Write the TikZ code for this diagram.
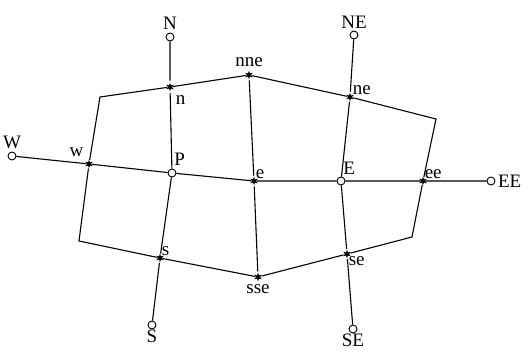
\documentclass[tikz,border=0pt]{standalone}
\usepackage{fontspec}
\setmainfont{Liberation Serif}
\usetikzlibrary{shapes.geometric}
\usetikzlibrary{positioning}

\begin{document}
\begin{tikzpicture}[x=1pt,y=-1pt,line width=1.1pt,
          nodept/.style={draw,circle,fill=white,inner sep=0pt,minimum size=8pt,line width=0.9pt},
          facept/.style={star,star points=6,star point ratio=2.4,fill,inner sep=0pt,minimum size=9pt},
          every label/.style={font=\fontsize{19}{21}\selectfont,inner sep=1pt,label distance=1pt}]
          \useasboundingbox (0,0) rectangle (528,356);
          % grid nodes
          \node[nodept,label=above:N](N) at (170,37){};
          \node[nodept,label=above:NE](NE) at (354,35){};
          \node[nodept,label=above:W](W) at (12,156){};
          \node[nodept,label={[xshift=-2pt,yshift=1pt]60:P}](P) at (172,173){};
          \node[nodept,label={[xshift=-2pt]60:E}](E) at (341,181){};
          \node[nodept,label=right:EE](EE) at (491,181){};
          \node[nodept,label={[yshift=2pt]below:S}](S) at (152,325){};
          \node[nodept,label={[yshift=2pt]below:SE}](SE) at (353,329){};
          % face points
          \node[facept,label={[xshift=-2pt,yshift=-3pt]-30:n}](n) at (170,87){};
          \node[facept,label={[yshift=-1pt]above:nne}](nne) at (249,75){};
          \node[facept,label={[xshift=-2pt,yshift=-2pt]45:ne}](ne) at (350,97){};
          \node[facept,label={[xshift=-1pt,yshift=3pt]135:w}](w) at (89,164){};
          \node[facept,label={[xshift=-3pt,yshift=-2pt]45:e}](e) at (254,181){};
          \node[facept,label={[xshift=-3pt,yshift=-2pt]45:ee}](ee) at (423,181){};
          \node[facept,label={[xshift=-3pt,yshift=-2pt]45:s}](s) at (160,258){};
          \node[facept,label={[yshift=1pt]below:sse}](sse) at (258,277){};
          \node[facept,label={[xshift=-3pt,yshift=2pt]-45:se}](se) at (347,254){};
          % corners of the cell
          \coordinate (nw) at (100,97);
          \coordinate (neo) at (436,119);
          \coordinate (seo) at (412,237);
          \coordinate (sw) at (79,241);
          % grid lines
          \draw (W)--(w)--(P)--(e)--(E)--(ee)--(EE);
          \draw (N)--(n)--(P)--(s)--(S);
          \draw (NE)--(ne)--(E)--(se)--(SE);
          \draw (nne)--(e)--(sse);
          % control volume
          \draw (w)--(nw)--(n)--(nne)--(ne)--(neo)--(ee)--(seo)--(se)--(sse)--(s)--(sw)--(w);
        \end{tikzpicture}
\end{document}
